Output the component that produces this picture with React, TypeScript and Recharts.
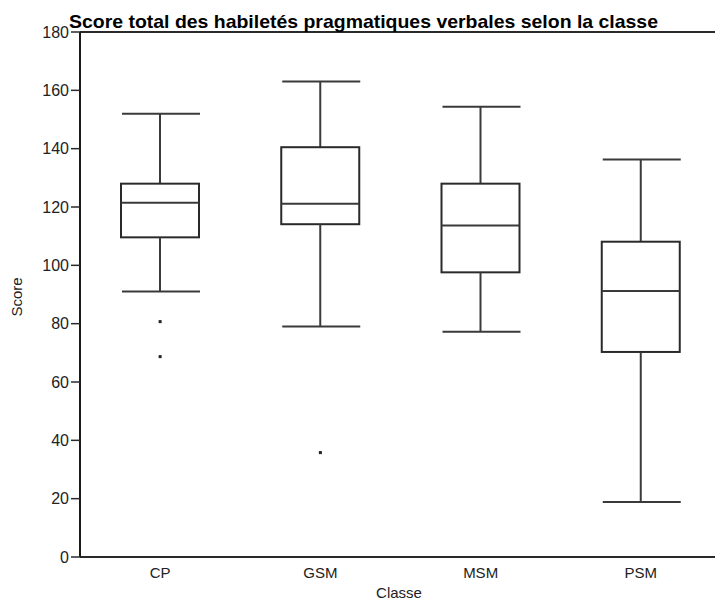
import React from "react"
import { Bar, ComposedChart, ReferenceLine, Scatter, XAxis, YAxis } from "recharts"

// box plot stats
const categories = ["CP", "GSM", "MSM", "PSM"]
const mins = [91, 79, 77.2, 18.9]
const q1s = [109.6, 114.1, 97.6, 70.3]
const medians = [121.5, 121.1, 113.7, 91.2]
const q3s = [128, 140.5, 128, 108.1]
const maxs = [152, 163, 154.4, 136.3]
const outlierNames = ["CP", "CP", "GSM"]
const outlierValues = [80.7, 68.7, 35.8]
const yTicks = [0, 20, 40, 60, 80, 100, 120, 140, 160, 180]

const data = categories.map((name, i) => ({
  name,
  range: [mins[i], maxs[i]],
  min: mins[i],
  q1: q1s[i],
  median: medians[i],
  q3: q3s[i],
  max: maxs[i],
}))

const outliers = outlierNames.map((name, i) => ({ name, value: outlierValues[i] }))

const FONT = "'Liberation Sans', Arial, sans-serif"
const LINE = "#3a3a3a"

// draws the whole box + whiskers inside the bar's min..max rectangle
const BoxShape = (props: any) => {
  const { x, y, width, height, payload } = props
  if (height == null || !payload) return null
  const span = payload.max - payload.min
  const toY = (v: number) => y + ((payload.max - v) / span) * height
  const cx = x + width / 2
  const yMax = toY(payload.max)
  const yQ3 = toY(payload.q3)
  const yMed = toY(payload.median)
  const yQ1 = toY(payload.q1)
  const yMin = toY(payload.min)
  return (
    <g stroke={LINE} strokeWidth={2} fill="none">
      <line x1={x + 1} x2={x + width + 1} y1={yMax} y2={yMax} />
      <line x1={cx} x2={cx} y1={yMax} y2={yQ3} />
      <rect x={x} y={yQ3} width={width} height={yQ1 - yQ3} stroke="#2a2a2a" />
      <line x1={x} x2={x + width} y1={yMed} y2={yMed} />
      <line x1={cx} x2={cx} y1={yQ1} y2={yMin} />
      <line x1={x + 1} x2={x + width + 1} y1={yMin} y2={yMin} />
    </g>
  )
}

const Dot = (props: any) => {
  const { cx, cy } = props
  return <rect x={cx - 1.5} y={cy - 1.5} width={3} height={3} fill="#222" />
}

export default function App() {
  return (
    <div style={{ position: "fixed", left: 0, top: 0, width: 715, height: 601, overflow: "hidden", background: "#fff" }}>
      <ComposedChart
        width={721}
        height={601}
        data={data}
        margin={{ top: 32, right: 0, bottom: 0, left: 0 }}
        barCategoryGap={0}
      >
        <XAxis
          dataKey="name"
          type="category"
          allowDuplicatedCategory={false}
          tickLine={false}
          axisLine={{ stroke: "#2a2a2a", strokeWidth: 2 }}
          tick={{ fontSize: 15, fill: "#222", fontFamily: FONT }}
          tickMargin={4}
          height={44}
        />
        <YAxis
          type="number"
          domain={[0, 180]}
          ticks={yTicks}
          width={80}
          tickSize={9}
          tickMargin={2}
          axisLine={{ stroke: "#1a1a1a", strokeWidth: 2 }}
          tickLine={{ stroke: "#2a2a2a", strokeWidth: 1.5 }}
          tick={{ fontSize: 16, fill: "#222", fontFamily: FONT }}
        />
        <ReferenceLine y={180} stroke="#2a2a2a" strokeWidth={2} />
        <Bar dataKey="range" barSize={78} shape={<BoxShape />} isAnimationActive={false} />
        <Scatter data={outliers} dataKey="value" shape={<Dot />} isAnimationActive={false} />
      </ComposedChart>
      <svg width={715} height={601} style={{ position: "absolute", left: 0, top: 0, pointerEvents: "none" }}>
        <text
          x={69}
          y={28}
          fontSize={19}
          fontWeight="bold"
          fontFamily={FONT}
          fill="#000"
          textLength={589}
          lengthAdjust="spacingAndGlyphs"
        >
          Score total des habiletés pragmatiques verbales selon la classe
        </text>
        <text
          x={22}
          y={297}
          fontSize={15}
          fontFamily={FONT}
          fill="#222"
          textAnchor="middle"
          transform="rotate(-90 22 297)"
        >
          Score
        </text>
        <text x={399} y={598} fontSize={15} fontFamily={FONT} fill="#222" textAnchor="middle">
          Classe
        </text>
      </svg>
    </div>
  )
}
